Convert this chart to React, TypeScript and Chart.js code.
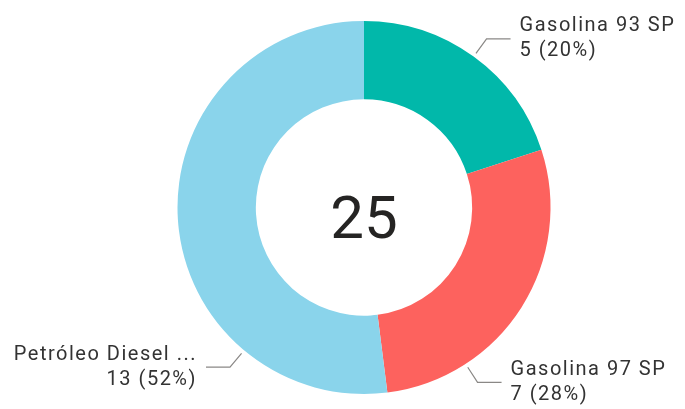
import React, { useEffect, useRef } from "react";
import { Chart, registerables } from "chart.js";

Chart.register(...registerables);

const categories = ["Gasolina 93 SP", "Gasolina 97 SP", "Petróleo Diesel ..."];
const values = [5, 7, 13];
const colors = ["#01B8AA", "#FD625E", "#8AD4EB"];
const total = values.reduce((a, b) => a + b, 0);

const labelPlugin = {
  id: "pbiLabels",
  afterDraw(chart: any, _args: any, opts: any) {
    const ctx = chart.ctx;
    const meta = chart.getDatasetMeta(0);
    const data = chart.data.datasets[0].data as number[];
    const sum = data.reduce((a, b) => a + b, 0);
    meta.data.forEach((arc: any, i: number) => {
      const p = arc.getProps(["x", "y", "startAngle", "endAngle", "outerRadius"], true);
      let ang = (p.startAngle + p.endAngle) / 2; // canvas radians
      const ov = opts.anchorAngles?.[i];
      if (ov != null) ang = ((ov - 90) * Math.PI) / 180;
      const r0 = p.outerRadius + 4;
      const r1 = p.outerRadius + 22;
      const x0 = p.x + Math.cos(ang) * r0;
      const y0 = p.y + Math.sin(ang) * r0;
      const x1 = p.x + Math.cos(ang) * r1;
      const y1 = p.y + Math.sin(ang) * r1;
      const right = Math.cos(ang) >= 0;
      const x2 = x1 + (right ? 24 : -24);
      ctx.save();
      ctx.strokeStyle = "#8a8886";
      ctx.lineWidth = 1.2;
      ctx.beginPath();
      ctx.moveTo(x0, y0);
      ctx.lineTo(x1, y1);
      ctx.lineTo(x2, y1);
      ctx.stroke();
      ctx.fillStyle = "#333333";
      ctx.font = "20px Roboto";
      (ctx as any).letterSpacing = "1.5px";
      ctx.textAlign = right ? "left" : "right";
      ctx.textBaseline = "middle";
      const tx = x2 + (right ? 9 : -9);
      const pct = Math.round((data[i] / sum) * 100);
      ctx.fillText(chart.data.labels[i], tx, y1 - 12.5);
      ctx.fillText(`${data[i]} (${pct}%)`, tx, y1 + 12.5);
      ctx.restore();
    });
    // center total
    const a0 = meta.data[0].getProps(["x", "y"], true);
    ctx.save();
    ctx.fillStyle = "#252423";
    ctx.font = "60px Roboto";
    ctx.textAlign = "center";
    ctx.textBaseline = "alphabetic";
    ctx.fillText(String(total), a0.x, a0.y + 30);
    ctx.restore();
  },
};

export default function App() {
  const ref = useRef<HTMLCanvasElement>(null);
  useEffect(() => {
    document.body.style.margin = "0";
    const chart = new Chart(ref.current!, {
      type: "doughnut",
      data: {
        labels: categories,
        datasets: [
          {
            data: values,
            backgroundColor: colors,
            borderWidth: 0,
          },
        ],
      },
      options: {
        responsive: false,
        animation: false,
        devicePixelRatio: 1,
        cutout: "58%",
        layout: { padding: { top: 21, bottom: 15, left: 177, right: 134 } },
        plugins: {
          legend: { display: false },
          tooltip: { enabled: false },
          pbiLabels: { anchorAngles: [null, 147, 220] },
        } as any,
      },
      plugins: [labelPlugin],
    });
    return () => chart.destroy();
  }, []);
  return (
    <div style={{ width: 685, height: 409, background: "#fff" }}>
      <canvas ref={ref} width={685} height={409} />
    </div>
  );
}
